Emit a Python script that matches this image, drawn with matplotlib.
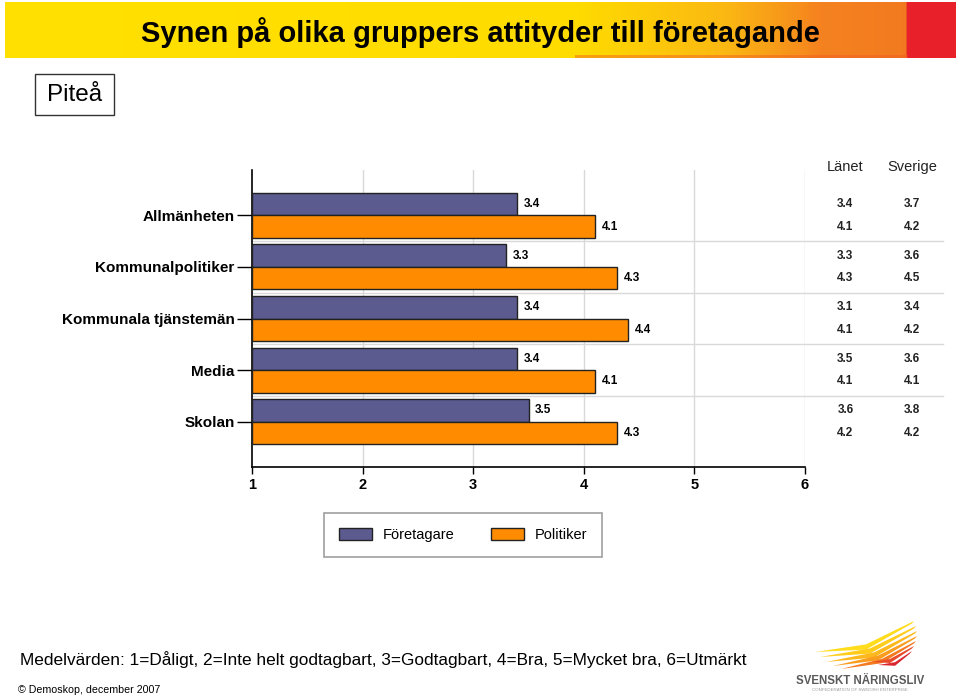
import numpy as np
import matplotlib
matplotlib.use('Agg')
import matplotlib.pyplot as plt
from matplotlib.patches import Rectangle, Polygon
from matplotlib.colors import LinearSegmentedColormap


categories = ['Allmänheten', 'Kommunalpolitiker', 'Kommunala tjänstemän', 'Media', 'Skolan']
foretagare = [3.4, 3.3, 3.4, 3.4, 3.5]
politiker = [4.1, 4.3, 4.4, 4.1, 4.3]
lanet_f = [3.4, 3.3, 3.1, 3.5, 3.6]
lanet_p = [4.1, 4.3, 4.1, 4.1, 4.2]
sverige_f = [3.7, 3.6, 3.4, 3.6, 3.8]
sverige_p = [4.2, 4.5, 4.2, 4.1, 4.2]
x_ticks = [1, 2, 3, 4, 5, 6]

title = 'Synen på olika gruppers attityder till företagande'
region = 'Piteå'
scale_note = 'Medelvärden: 1=Dåligt, 2=Inte helt godtagbart, 3=Godtagbart, 4=Bra, 5=Mycket bra, 6=Utmärkt'
source = '© Demoskop, december 2007'

purple = '#5c5b8f'
orange = '#ff8c00'
grid_c = '#d9d9d9'
plt.rcParams['font.family'] = ['Liberation Sans', 'DejaVu Sans']

fig = plt.figure(figsize=(9.6, 6.98), dpi=100)
W, H = 960, 698


def fx(px):
	return px / W

def fy(py):
	return 1 - py / H


# banner
bax = fig.add_axes([fx(5), fy(58), fx(950), (58 - 2) / H])
bax.set_axis_off()
cmap = LinearSegmentedColormap.from_list('banner', [
	(0.0, '#ffe100'), (0.6, '#ffdc00'), (0.76, '#fbb813'),
	(0.86, '#f5821f'), (0.949, '#f27a20'), (0.95, '#e8202a'), (1.0, '#e8202a')])
grad = np.linspace(0, 1, 500).reshape(1, -1)
bax.imshow(grad, aspect='auto', cmap=cmap, extent=[0, 1, 0, 1])
bax.add_patch(Rectangle((0.6, 0), 0.35, 0.05, color='#f05a22', alpha=0.45, lw=0))
bax.set_xlim(0, 1)
bax.set_ylim(0, 1)
fig.text(fx(480), fy(33), title, ha='center', va='center', fontsize=21, fontweight='bold')

# region box
fig.patches.append(Rectangle((fx(35), fy(115)), fx(79), (115 - 74) / H,
							 transform=fig.transFigure, fill=False, ec='#333333', lw=1))
fig.text(fx(74.5), fy(95), region, ha='center', va='center', fontsize=17.5)

# chart
ax = fig.add_axes([fx(252), fy(467), fx(805 - 252), (467 - 170) / H])
y = np.arange(len(categories))
bh = 0.436
ax.barh(y - bh / 2, np.array(foretagare) - 1, left=1, height=bh, color=purple,
		edgecolor='#222222', lw=1, label='Företagare', zorder=3)
ax.barh(y + bh / 2, np.array(politiker) - 1, left=1, height=bh, color=orange,
		edgecolor='#222222', lw=1, label='Politiker', zorder=3)

for i in range(len(categories)):
	ax.text(foretagare[i] + 0.06, y[i] - bh / 2, f'{foretagare[i]:.1f}', va='center',
			ha='left', fontsize=8.5, fontweight='bold')
	ax.text(politiker[i] + 0.06, y[i] + bh / 2, f'{politiker[i]:.1f}', va='center',
			ha='left', fontsize=8.5, fontweight='bold')

ax.set_xlim(1, 6)
ax.set_ylim(4.88, -0.88)
ax.set_xticks(x_ticks)
ax.set_xticklabels([str(t) for t in x_ticks], fontsize=10.5, fontweight='bold')
ax.set_yticks(y)
ax.set_yticklabels(categories, fontsize=11, fontweight='bold')
ax.tick_params(axis='y', length=11, width=1, pad=1.5)
ax.tick_params(axis='x', length=5, width=1, pad=3)
ax.spines['top'].set_visible(False)
ax.spines['right'].set_visible(False)
ax.spines['left'].set_linewidth(1.2)
ax.spines['bottom'].set_linewidth(1.2)
for xv in x_ticks[1:]:
	ax.axvline(xv, color=grid_c, lw=1, zorder=0)
ytr = ax.get_yaxis_transform()
for b in [0.5, 1.5, 2.5, 3.5]:
	ax.plot([0, 1.25], [b, b], transform=ytr, color=grid_c, lw=1, zorder=0, clip_on=False)

# table beside chart
ax.text(1.073, -0.93, 'Länet', transform=ytr, ha='center', va='center', fontsize=10.5, color='#222222')
ax.text(1.194, -0.93, 'Sverige', transform=ytr, ha='center', va='center', fontsize=10.5, color='#222222')
for i in range(len(categories)):
	for col, fv, pv in [(1.073, lanet_f, lanet_p), (1.194, sverige_f, sverige_p)]:
		ax.text(col, y[i] - bh / 2, f'{fv[i]:.1f}', transform=ytr, ha='center', va='center',
				fontsize=8.5, fontweight='bold', color='#222222')
		ax.text(col, y[i] + bh / 2, f'{pv[i]:.1f}', transform=ytr, ha='center', va='center',
				fontsize=8.5, fontweight='bold', color='#222222')

leg = fig.legend(loc='center', bbox_to_anchor=(fx(463), fy(535)), ncol=2, fontsize=10.5,
				 frameon=True, fancybox=False, edgecolor='#888888', handlelength=2.3,
				 handleheight=0.9, columnspacing=2.5, borderpad=1.0, handletextpad=0.7)
leg.get_frame().set_linewidth(1.2)

# footer
fig.text(fx(20), fy(660), scale_note, ha='left', va='center', fontsize=12.4)
fig.text(fx(18), fy(690), source, ha='left', va='center', fontsize=7.7)

# logo (pixel coords inside the box 780..960 x 600..698)
lax = fig.add_axes([fx(780), fy(698), fx(180), 98 / H])
lax.set_axis_off()
lax.set_xlim(780, 960)
lax.set_ylim(698, 600)
streaks = [
	((815, 652), (866, 647), (914, 621), '#ffdc1c', 2.6),
	((820, 657), (870, 651), (916, 626), '#ffcc1c', 2.6),
	((826, 662), (874, 655), (917, 631), '#fdb81d', 2.6),
	((833, 666), (878, 658), (917, 636), '#f99d1e', 2.4),
	((841, 669), (882, 661), (916, 641), '#f47a20', 2.2),
	((872, 662), (890, 661), (914, 646), '#e84a2a', 2.0),
	((878, 665), (895, 664), (912, 651), '#d9262f', 1.8),
]
for (xa, ya), (xb, yb), (xc, yc), c, t in streaks:
	lax.add_patch(Polygon([(xa, ya), (xb, yb - t), (xc, yc), (xc - 2, yc + 2.5), (xb, yb + t)],
						  closed=True, color=c, lw=0))
lax.text(860, 681, 'SVENSKT NÄRINGSLIV', ha='center', va='center', fontsize=8.3,
		 fontweight='bold', color='#5a5a5a')
lax.text(860, 690, 'CONFEDERATION OF SWEDISH ENTERPRISE', ha='center', va='center',
		 fontsize=3.2, color='#999999')

fig.savefig('out.png', dpi=100)
